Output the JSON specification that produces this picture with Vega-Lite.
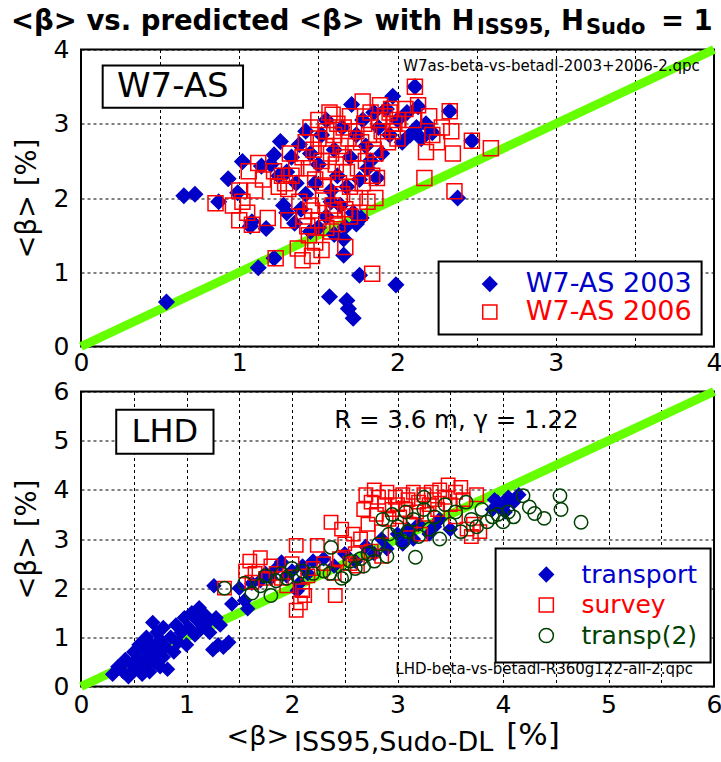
{
  "$schema": "https://vega.github.io/schema/vega-lite/v6.json",
  "background": "white",
  "padding": {"left": 10, "top": 6.5, "right": 0, "bottom": 1},
  "config": {
    "font": "DejaVu Sans",
    "view": {"stroke": "black", "strokeWidth": 2, "fill": "white"},
    "axis": {"grid": true, "gridColor": "black", "gridDash": [3, 3], "gridWidth": 1, "gridOpacity": 1, "ticks": false, "domain": false, "labelFontSize": 25, "labelColor": "black", "labelFont": "DejaVu Sans", "titleFont": "DejaVu Sans", "titleFontWeight": "normal", "titleFontSize": 27.5, "titleColor": "black", "labelOverlap": false, "labelFlush": false},
    "axisY": {"labelPadding": 12, "titlePadding": 11.5},
    "axisX": {"labelPadding": 4},
    "legend": {"orient": "none", "strokeColor": "black", "strokeWidth": 2, "fillColor": "white", "labelFont": "DejaVu Sans", "symbolStrokeWidth": 1.5, "symbolSize": 200, "labelLimit": 400}
  },
  "datasets": {
    "w7": [
      {"s":"W7-AS 2003","x":0.54,"y":0.60},{"s":"W7-AS 2003","x":0.65,"y":2.03},{"s":"W7-AS 2003","x":0.72,"y":2.05},{"s":"W7-AS 2003","x":0.87,"y":1.95},{"s":"W7-AS 2003","x":0.93,"y":2.26},{"s":"W7-AS 2003","x":1.02,"y":2.49},{"s":"W7-AS 2003","x":0.99,"y":2.07},{"s":"W7-AS 2003","x":1.08,"y":1.68},{"s":"W7-AS 2003","x":1.07,"y":1.62},{"s":"W7-AS 2003","x":1.17,"y":1.59},{"s":"W7-AS 2003","x":1.12,"y":1.06},{"s":"W7-AS 2003","x":1.22,"y":1.19},{"s":"W7-AS 2003","x":1.14,"y":2.43},{"s":"W7-AS 2003","x":1.22,"y":2.58},{"s":"W7-AS 2003","x":1.26,"y":2.76},{"s":"W7-AS 2003","x":1.28,"y":1.90},{"s":"W7-AS 2003","x":1.35,"y":1.66},{"s":"W7-AS 2003","x":1.39,"y":1.85},{"s":"W7-AS 2003","x":1.57,"y":0.67},{"s":"W7-AS 2003","x":1.60,"y":1.51},{"s":"W7-AS 2003","x":1.66,"y":1.23},{"s":"W7-AS 2003","x":1.68,"y":0.62},{"s":"W7-AS 2003","x":1.69,"y":0.51},{"s":"W7-AS 2003","x":1.72,"y":0.38},{"s":"W7-AS 2003","x":1.67,"y":1.61},{"s":"W7-AS 2003","x":1.76,"y":0.96},{"s":"W7-AS 2003","x":1.77,"y":1.73},{"s":"W7-AS 2003","x":1.99,"y":0.83},{"s":"W7-AS 2003","x":1.97,"y":3.37},{"s":"W7-AS 2003","x":1.81,"y":2.40},{"s":"W7-AS 2003","x":1.87,"y":2.27},{"s":"W7-AS 2003","x":1.71,"y":3.26},{"s":"W7-AS 2003","x":2.11,"y":3.50},{"s":"W7-AS 2003","x":2.13,"y":3.23},{"s":"W7-AS 2003","x":2.33,"y":3.17},{"s":"W7-AS 2003","x":2.47,"y":2.77},{"s":"W7-AS 2003","x":2.38,"y":2.00},
      {"s":"W7-AS 2003","x":1.30,"y":2.35},{"s":"W7-AS 2003","x":1.33,"y":2.55},{"s":"W7-AS 2003","x":1.38,"y":2.72},{"s":"W7-AS 2003","x":1.42,"y":2.90},{"s":"W7-AS 2003","x":1.45,"y":2.60},{"s":"W7-AS 2003","x":1.48,"y":2.20},{"s":"W7-AS 2003","x":1.50,"y":2.45},{"s":"W7-AS 2003","x":1.52,"y":2.85},{"s":"W7-AS 2003","x":1.55,"y":3.05},{"s":"W7-AS 2003","x":1.58,"y":2.10},{"s":"W7-AS 2003","x":1.60,"y":2.65},{"s":"W7-AS 2003","x":1.62,"y":2.30},{"s":"W7-AS 2003","x":1.64,"y":1.90},{"s":"W7-AS 2003","x":1.65,"y":2.95},{"s":"W7-AS 2003","x":1.68,"y":2.15},{"s":"W7-AS 2003","x":1.70,"y":2.55},{"s":"W7-AS 2003","x":1.72,"y":1.80},{"s":"W7-AS 2003","x":1.74,"y":2.85},{"s":"W7-AS 2003","x":1.76,"y":2.25},{"s":"W7-AS 2003","x":1.78,"y":3.05},{"s":"W7-AS 2003","x":1.80,"y":2.70},{"s":"W7-AS 2003","x":1.83,"y":2.50},{"s":"W7-AS 2003","x":1.85,"y":3.15},{"s":"W7-AS 2003","x":1.88,"y":2.95},{"s":"W7-AS 2003","x":1.90,"y":2.60},{"s":"W7-AS 2003","x":1.93,"y":3.20},{"s":"W7-AS 2003","x":1.95,"y":2.85},{"s":"W7-AS 2003","x":2.00,"y":3.05},{"s":"W7-AS 2003","x":2.03,"y":2.75},{"s":"W7-AS 2003","x":2.06,"y":3.15},{"s":"W7-AS 2003","x":2.08,"y":2.85},{"s":"W7-AS 2003","x":2.12,"y":2.95},{"s":"W7-AS 2003","x":2.15,"y":2.80},{"s":"W7-AS 2003","x":2.18,"y":3.00},{"s":"W7-AS 2003","x":2.22,"y":2.88},{"s":"W7-AS 2003","x":1.55,"y":1.75},{"s":"W7-AS 2003","x":1.50,"y":1.60},{"s":"W7-AS 2003","x":1.45,"y":1.55},{"s":"W7-AS 2003","x":1.58,"y":1.95},{"s":"W7-AS 2003","x":1.42,"y":2.05},{"s":"W7-AS 2003","x":1.36,"y":2.20},{"s":"W7-AS 2003","x":1.25,"y":2.30},{"s":"W7-AS 2003","x":1.20,"y":2.45},{"s":"W7-AS 2003","x":1.30,"y":1.80},{"s":"W7-AS 2003","x":1.66,"y":1.45},{"s":"W7-AS 2003","x":1.74,"y":1.65},
      {"s":"W7-AS 2006","x":0.85,"y":1.93},{"s":"W7-AS 2006","x":0.96,"y":1.90},{"s":"W7-AS 2006","x":1.00,"y":2.10},{"s":"W7-AS 2006","x":1.06,"y":2.36},{"s":"W7-AS 2006","x":1.12,"y":2.47},{"s":"W7-AS 2006","x":1.08,"y":1.64},{"s":"W7-AS 2006","x":1.18,"y":1.73},{"s":"W7-AS 2006","x":1.23,"y":1.19},{"s":"W7-AS 2006","x":1.22,"y":2.36},{"s":"W7-AS 2006","x":1.29,"y":2.20},{"s":"W7-AS 2006","x":1.31,"y":2.12},{"s":"W7-AS 2006","x":1.32,"y":2.60},{"s":"W7-AS 2006","x":1.31,"y":1.70},{"s":"W7-AS 2006","x":1.37,"y":1.32},{"s":"W7-AS 2006","x":1.40,"y":1.16},{"s":"W7-AS 2006","x":1.46,"y":1.22},{"s":"W7-AS 2006","x":1.44,"y":1.50},{"s":"W7-AS 2006","x":1.41,"y":1.75},{"s":"W7-AS 2006","x":1.46,"y":1.83},{"s":"W7-AS 2006","x":1.53,"y":2.17},{"s":"W7-AS 2006","x":1.59,"y":3.12},{"s":"W7-AS 2006","x":1.67,"y":1.34},{"s":"W7-AS 2006","x":1.60,"y":1.83},{"s":"W7-AS 2006","x":1.62,"y":1.78},{"s":"W7-AS 2006","x":1.84,"y":0.98},{"s":"W7-AS 2006","x":1.86,"y":2.00},{"s":"W7-AS 2006","x":1.87,"y":2.27},{"s":"W7-AS 2006","x":1.86,"y":2.60},{"s":"W7-AS 2006","x":1.78,"y":3.30},{"s":"W7-AS 2006","x":1.89,"y":3.25},{"s":"W7-AS 2006","x":1.95,"y":3.15},{"s":"W7-AS 2006","x":2.00,"y":3.05},{"s":"W7-AS 2006","x":2.00,"y":2.80},{"s":"W7-AS 2006","x":1.97,"y":2.90},{"s":"W7-AS 2006","x":2.11,"y":3.50},{"s":"W7-AS 2006","x":2.33,"y":3.17},{"s":"W7-AS 2006","x":2.47,"y":2.77},{"s":"W7-AS 2006","x":2.59,"y":2.67},{"s":"W7-AS 2006","x":2.34,"y":2.90},{"s":"W7-AS 2006","x":2.35,"y":2.60},{"s":"W7-AS 2006","x":2.17,"y":2.27},{"s":"W7-AS 2006","x":2.36,"y":2.09},{"s":"W7-AS 2006","x":2.22,"y":2.85},{"s":"W7-AS 2006","x":2.18,"y":2.62},{"s":"W7-AS 2006","x":2.25,"y":2.75},{"s":"W7-AS 2006","x":2.10,"y":3.05},{"s":"W7-AS 2006","x":2.13,"y":3.25},{"s":"W7-AS 2006","x":2.20,"y":3.10},{"s":"W7-AS 2006","x":2.05,"y":3.20},{"s":"W7-AS 2006","x":2.28,"y":2.95},
      {"s":"W7-AS 2006","x":1.40,"y":2.55},{"s":"W7-AS 2006","x":1.42,"y":2.75},{"s":"W7-AS 2006","x":1.44,"y":2.40},{"s":"W7-AS 2006","x":1.45,"y":2.95},{"s":"W7-AS 2006","x":1.47,"y":2.65},{"s":"W7-AS 2006","x":1.48,"y":2.25},{"s":"W7-AS 2006","x":1.50,"y":2.80},{"s":"W7-AS 2006","x":1.50,"y":3.05},{"s":"W7-AS 2006","x":1.52,"y":2.50},{"s":"W7-AS 2006","x":1.53,"y":2.00},{"s":"W7-AS 2006","x":1.55,"y":2.70},{"s":"W7-AS 2006","x":1.55,"y":2.90},{"s":"W7-AS 2006","x":1.56,"y":2.35},{"s":"W7-AS 2006","x":1.57,"y":3.15},{"s":"W7-AS 2006","x":1.58,"y":2.60},{"s":"W7-AS 2006","x":1.59,"y":1.90},{"s":"W7-AS 2006","x":1.60,"y":2.85},{"s":"W7-AS 2006","x":1.61,"y":2.45},{"s":"W7-AS 2006","x":1.62,"y":3.00},{"s":"W7-AS 2006","x":1.63,"y":2.20},{"s":"W7-AS 2006","x":1.64,"y":2.70},{"s":"W7-AS 2006","x":1.65,"y":2.05},{"s":"W7-AS 2006","x":1.66,"y":2.55},{"s":"W7-AS 2006","x":1.66,"y":2.95},{"s":"W7-AS 2006","x":1.67,"y":1.85},{"s":"W7-AS 2006","x":1.68,"y":2.35},{"s":"W7-AS 2006","x":1.69,"y":2.80},{"s":"W7-AS 2006","x":1.70,"y":3.10},{"s":"W7-AS 2006","x":1.70,"y":2.15},{"s":"W7-AS 2006","x":1.72,"y":2.60},{"s":"W7-AS 2006","x":1.73,"y":2.00},{"s":"W7-AS 2006","x":1.74,"y":2.90},{"s":"W7-AS 2006","x":1.75,"y":2.40},{"s":"W7-AS 2006","x":1.76,"y":1.80},{"s":"W7-AS 2006","x":1.77,"y":2.75},{"s":"W7-AS 2006","x":1.78,"y":2.20},{"s":"W7-AS 2006","x":1.79,"y":3.00},{"s":"W7-AS 2006","x":1.80,"y":2.50},{"s":"W7-AS 2006","x":1.81,"y":1.95},{"s":"W7-AS 2006","x":1.82,"y":2.85},{"s":"W7-AS 2006","x":1.83,"y":3.15},{"s":"W7-AS 2006","x":1.84,"y":2.30},{"s":"W7-AS 2006","x":1.85,"y":2.65},{"s":"W7-AS 2006","x":1.88,"y":3.05},{"s":"W7-AS 2006","x":1.90,"y":2.90},{"s":"W7-AS 2006","x":1.92,"y":3.10},{"s":"W7-AS 2006","x":1.94,"y":2.75},{"s":"W7-AS 2006","x":1.96,"y":3.20},{"s":"W7-AS 2006","x":1.98,"y":3.00},{"s":"W7-AS 2006","x":1.36,"y":2.40},{"s":"W7-AS 2006","x":1.33,"y":2.30},{"s":"W7-AS 2006","x":1.27,"y":2.30},{"s":"W7-AS 2006","x":1.25,"y":2.15},{"s":"W7-AS 2006","x":1.15,"y":2.25},{"s":"W7-AS 2006","x":1.10,"y":2.10},{"s":"W7-AS 2006","x":1.02,"y":1.95},{"s":"W7-AS 2006","x":1.05,"y":1.80},{"s":"W7-AS 2006","x":1.00,"y":1.70},{"s":"W7-AS 2006","x":1.38,"y":1.95},{"s":"W7-AS 2006","x":1.45,"y":1.90},{"s":"W7-AS 2006","x":1.50,"y":1.70},{"s":"W7-AS 2006","x":1.55,"y":1.60},{"s":"W7-AS 2006","x":1.58,"y":1.55},{"s":"W7-AS 2006","x":1.48,"y":1.40},{"s":"W7-AS 2006","x":1.52,"y":1.30},{"s":"W7-AS 2006","x":1.43,"y":1.62},{"s":"W7-AS 2006","x":1.62,"y":1.65},{"s":"W7-AS 2006","x":1.70,"y":1.75}
    ],
    "lhd": [
      {"s":"transport","x":0.30,"y":0.25},{"s":"transport","x":0.35,"y":0.40},{"s":"transport","x":0.40,"y":0.30},{"s":"transport","x":0.42,"y":0.55},{"s":"transport","x":0.45,"y":0.20},{"s":"transport","x":0.48,"y":0.45},{"s":"transport","x":0.50,"y":0.70},{"s":"transport","x":0.52,"y":0.35},{"s":"transport","x":0.55,"y":0.55},{"s":"transport","x":0.55,"y":0.85},{"s":"transport","x":0.58,"y":0.25},{"s":"transport","x":0.60,"y":0.45},{"s":"transport","x":0.60,"y":0.75},{"s":"transport","x":0.62,"y":1.00},{"s":"transport","x":0.65,"y":0.60},{"s":"transport","x":0.65,"y":0.30},{"s":"transport","x":0.67,"y":0.85},{"s":"transport","x":0.68,"y":1.30},{"s":"transport","x":0.70,"y":0.50},{"s":"transport","x":0.72,"y":0.70},{"s":"transport","x":0.72,"y":1.10},{"s":"transport","x":0.75,"y":0.40},{"s":"transport","x":0.75,"y":0.95},{"s":"transport","x":0.78,"y":0.60},{"s":"transport","x":0.78,"y":1.20},{"s":"transport","x":0.80,"y":0.80},{"s":"transport","x":0.82,"y":0.35},{"s":"transport","x":0.85,"y":1.00},{"s":"transport","x":0.88,"y":0.70},{"s":"transport","x":0.90,"y":1.25},{"s":"transport","x":0.92,"y":0.90},{"s":"transport","x":0.95,"y":1.10},{"s":"transport","x":0.98,"y":1.40},{"s":"transport","x":1.00,"y":0.85},{"s":"transport","x":1.02,"y":1.20},{"s":"transport","x":1.05,"y":1.50},{"s":"transport","x":1.08,"y":1.05},{"s":"transport","x":1.10,"y":1.35},{"s":"transport","x":1.12,"y":1.60},{"s":"transport","x":1.15,"y":1.20},{"s":"transport","x":1.18,"y":1.45},{"s":"transport","x":1.20,"y":1.30},{"s":"transport","x":1.22,"y":1.10},{"s":"transport","x":1.25,"y":0.75},{"s":"transport","x":1.30,"y":0.85},{"s":"transport","x":1.35,"y":0.80},{"s":"transport","x":1.40,"y":0.90},{"s":"transport","x":1.28,"y":1.40},{"s":"transport","x":1.32,"y":1.25},{"s":"transport","x":1.26,"y":2.05},{"s":"transport","x":1.43,"y":1.68},{"s":"transport","x":1.58,"y":1.58},{"s":"transport","x":1.55,"y":1.75},{"s":"transport","x":1.50,"y":2.00},{"s":"transport","x":1.62,"y":2.10},{"s":"transport","x":1.70,"y":2.15},{"s":"transport","x":1.75,"y":2.30},{"s":"transport","x":1.80,"y":2.20},{"s":"transport","x":1.85,"y":2.40},{"s":"transport","x":1.90,"y":2.53},{"s":"transport","x":1.95,"y":2.25},{"s":"transport","x":2.00,"y":2.35},{"s":"transport","x":2.05,"y":1.95},{"s":"transport","x":2.07,"y":2.10},{"s":"transport","x":2.10,"y":2.45},{"s":"transport","x":2.15,"y":2.30},{"s":"transport","x":2.20,"y":2.55},{"s":"transport","x":2.30,"y":2.60},{"s":"transport","x":2.40,"y":2.45},{"s":"transport","x":2.50,"y":2.70},{"s":"transport","x":2.60,"y":2.55},{"s":"transport","x":2.70,"y":2.85},{"s":"transport","x":2.78,"y":2.70},{"s":"transport","x":2.85,"y":3.00},{"s":"transport","x":2.90,"y":2.80},{"s":"transport","x":3.00,"y":3.10},{"s":"transport","x":3.05,"y":2.90},{"s":"transport","x":3.10,"y":3.20},{"s":"transport","x":3.15,"y":3.00},{"s":"transport","x":3.20,"y":3.30},{"s":"transport","x":3.30,"y":3.10},{"s":"transport","x":3.35,"y":3.25},{"s":"transport","x":3.40,"y":3.40},{"s":"transport","x":3.50,"y":3.20},{"s":"transport","x":3.90,"y":3.60},{"s":"transport","x":3.95,"y":3.75},{"s":"transport","x":4.00,"y":3.65},{"s":"transport","x":4.05,"y":3.85},{"s":"transport","x":4.10,"y":3.75},{"s":"transport","x":4.15,"y":3.90},{"s":"transport","x":3.92,"y":3.80},{"s":"transport","x":4.02,"y":3.55},
      {"s":"survey","x":1.36,"y":2.00},{"s":"survey","x":1.56,"y":2.35},{"s":"survey","x":1.60,"y":2.55},{"s":"survey","x":1.65,"y":2.30},{"s":"survey","x":1.70,"y":2.62},{"s":"survey","x":1.62,"y":2.12},{"s":"survey","x":1.75,"y":2.20},{"s":"survey","x":1.80,"y":2.45},{"s":"survey","x":1.85,"y":2.30},{"s":"survey","x":2.04,"y":1.55},{"s":"survey","x":2.08,"y":1.70},{"s":"survey","x":2.12,"y":1.85},{"s":"survey","x":2.10,"y":1.95},{"s":"survey","x":2.04,"y":2.87},{"s":"survey","x":2.24,"y":2.87},{"s":"survey","x":2.41,"y":1.85},{"s":"survey","x":2.37,"y":3.34},{"s":"survey","x":2.47,"y":3.20},{"s":"survey","x":2.20,"y":2.40},{"s":"survey","x":2.30,"y":2.50},{"s":"survey","x":2.40,"y":2.30},{"s":"survey","x":2.45,"y":2.60},{"s":"survey","x":2.55,"y":2.50},{"s":"survey","x":2.60,"y":2.70},{"s":"survey","x":2.65,"y":3.00},{"s":"survey","x":2.68,"y":3.60},{"s":"survey","x":2.70,"y":3.90},{"s":"survey","x":2.72,"y":3.30},{"s":"survey","x":2.75,"y":3.75},{"s":"survey","x":2.78,"y":4.00},{"s":"survey","x":2.80,"y":3.50},{"s":"survey","x":2.82,"y":3.85},{"s":"survey","x":2.85,"y":3.15},{"s":"survey","x":2.88,"y":3.70},{"s":"survey","x":2.90,"y":3.95},{"s":"survey","x":2.92,"y":3.40},{"s":"survey","x":2.95,"y":3.60},{"s":"survey","x":2.98,"y":3.85},{"s":"survey","x":3.00,"y":3.70},{"s":"survey","x":3.02,"y":3.45},{"s":"survey","x":3.05,"y":3.90},{"s":"survey","x":3.08,"y":3.60},{"s":"survey","x":3.10,"y":3.80},{"s":"survey","x":3.12,"y":3.30},{"s":"survey","x":3.15,"y":3.95},{"s":"survey","x":3.18,"y":3.55},{"s":"survey","x":3.20,"y":3.75},{"s":"survey","x":3.22,"y":3.10},{"s":"survey","x":3.25,"y":3.90},{"s":"survey","x":3.28,"y":3.50},{"s":"survey","x":3.30,"y":3.70},{"s":"survey","x":3.32,"y":3.95},{"s":"survey","x":3.35,"y":3.80},{"s":"survey","x":3.38,"y":3.60},{"s":"survey","x":3.40,"y":4.00},{"s":"survey","x":3.45,"y":3.85},{"s":"survey","x":3.48,"y":4.10},{"s":"survey","x":3.50,"y":3.70},{"s":"survey","x":3.55,"y":3.95},{"s":"survey","x":3.60,"y":4.05},{"s":"survey","x":3.62,"y":3.80},{"s":"survey","x":3.66,"y":3.20},{"s":"survey","x":3.70,"y":3.05},{"s":"survey","x":3.72,"y":3.30},{"s":"survey","x":3.75,"y":3.90},{"s":"survey","x":3.78,"y":3.15},{"s":"survey","x":3.55,"y":3.45},{"s":"survey","x":2.50,"y":2.90},{"s":"survey","x":2.58,"y":3.10},{"s":"survey","x":2.62,"y":2.45},{"s":"survey","x":2.75,"y":2.75},{"s":"survey","x":2.85,"y":2.65},{"s":"survey","x":1.90,"y":2.20},{"s":"survey","x":1.95,"y":2.05},{"s":"survey","x":2.00,"y":2.50},{"s":"survey","x":2.15,"y":2.25},
      {"s":"transp(2)","x":1.36,"y":2.00},{"s":"transp(2)","x":1.55,"y":2.10},{"s":"transp(2)","x":1.62,"y":1.90},{"s":"transp(2)","x":1.70,"y":2.05},{"s":"transp(2)","x":1.80,"y":1.85},{"s":"transp(2)","x":1.75,"y":2.25},{"s":"transp(2)","x":1.85,"y":2.15},{"s":"transp(2)","x":1.90,"y":2.30},{"s":"transp(2)","x":1.95,"y":2.20},{"s":"transp(2)","x":2.00,"y":2.40},{"s":"transp(2)","x":2.05,"y":2.25},{"s":"transp(2)","x":2.10,"y":2.35},{"s":"transp(2)","x":2.20,"y":2.30},{"s":"transp(2)","x":2.30,"y":2.35},{"s":"transp(2)","x":2.36,"y":2.30},{"s":"transp(2)","x":2.37,"y":2.83},{"s":"transp(2)","x":2.47,"y":2.20},{"s":"transp(2)","x":2.55,"y":2.55},{"s":"transp(2)","x":2.60,"y":2.40},{"s":"transp(2)","x":2.68,"y":2.45},{"s":"transp(2)","x":2.72,"y":2.70},{"s":"transp(2)","x":2.78,"y":2.55},{"s":"transp(2)","x":2.82,"y":2.90},{"s":"transp(2)","x":2.86,"y":3.40},{"s":"transp(2)","x":2.90,"y":2.65},{"s":"transp(2)","x":2.92,"y":3.10},{"s":"transp(2)","x":2.95,"y":3.50},{"s":"transp(2)","x":3.00,"y":3.25},{"s":"transp(2)","x":3.05,"y":2.95},{"s":"transp(2)","x":3.08,"y":3.55},{"s":"transp(2)","x":3.10,"y":3.15},{"s":"transp(2)","x":3.15,"y":3.40},{"s":"transp(2)","x":3.17,"y":2.63},{"s":"transp(2)","x":3.20,"y":3.05},{"s":"transp(2)","x":3.25,"y":3.60},{"s":"transp(2)","x":3.30,"y":3.20},{"s":"transp(2)","x":3.35,"y":3.45},{"s":"transp(2)","x":3.40,"y":3.00},{"s":"transp(2)","x":3.45,"y":3.70},{"s":"transp(2)","x":3.50,"y":3.30},{"s":"transp(2)","x":3.55,"y":3.55},{"s":"transp(2)","x":3.60,"y":3.15},{"s":"transp(2)","x":3.65,"y":3.75},{"s":"transp(2)","x":3.70,"y":3.40},{"s":"transp(2)","x":3.75,"y":3.25},{"s":"transp(2)","x":3.80,"y":3.60},{"s":"transp(2)","x":3.85,"y":3.35},{"s":"transp(2)","x":3.90,"y":3.45},{"s":"transp(2)","x":3.95,"y":3.50},{"s":"transp(2)","x":4.00,"y":3.35},{"s":"transp(2)","x":4.05,"y":3.55},{"s":"transp(2)","x":4.10,"y":3.45},{"s":"transp(2)","x":4.19,"y":3.88},{"s":"transp(2)","x":4.30,"y":3.52},{"s":"transp(2)","x":4.39,"y":3.42},{"s":"transp(2)","x":4.54,"y":3.88},{"s":"transp(2)","x":4.55,"y":3.60},{"s":"transp(2)","x":4.74,"y":3.34},{"s":"transp(2)","x":4.25,"y":3.65},{"s":"transp(2)","x":3.25,"y":3.85},{"s":"transp(2)","x":2.50,"y":2.25},{"s":"transp(2)","x":2.65,"y":2.60}
    ]
  },
  "spacing": 45,
  "bounds": "flush",
  "resolve": {
    "scale": {"x": "independent", "y": "independent", "fill": "independent", "stroke": "independent", "shape": "independent"},
    "legend": {"fill": "independent", "stroke": "independent", "shape": "independent"}
  },
  "vconcat": [
    {
      "width": 633,
      "height": 297,
      "layer": [
        {
          "data": {"values": [{"x": 0, "y": 0}, {"x": 4, "y": 4}]},
          "mark": {"type": "line", "color": "#66ff00", "strokeWidth": 9, "strokeCap": "butt"},
          "encoding": {
            "x": {"field": "x", "type": "quantitative", "scale": {"domain": [0, 4], "nice": false, "zero": false}, "axis": {"values": [0, 0.5, 1, 1.5, 2, 2.5, 3, 3.5, 4], "labelExpr": "datum.value % 1 === 0 ? format(datum.value, 'd') : ''", "title": null}},
            "y": {"field": "y", "type": "quantitative", "scale": {"domain": [0, 4], "nice": false, "zero": false}, "axis": {"values": [0, 0.5, 1, 1.5, 2, 2.5, 3, 3.5, 4], "labelExpr": "datum.value % 1 === 0 ? format(datum.value, 'd') : ''", "title": "<β> [%]"}}
          }
        },
        {
          "data": {"name": "w7"},
          "mark": {"type": "point", "filled": true, "size": 225, "strokeWidth": 1.5, "opacity": 1},
          "encoding": {
            "x": {"field": "x", "type": "quantitative"},
            "y": {"field": "y", "type": "quantitative"},
            "shape": {"field": "s", "type": "nominal", "scale": {"domain": ["W7-AS 2003", "W7-AS 2006"], "range": ["diamond", "square"]}, "legend": {"title": null, "legendX": 357.6, "legendY": 212, "padding": 9, "symbolOffset": 28.7, "labelOffset": 22.5, "rowPadding": 0, "labelFontSize": 27, "labelColor": {"expr": "datum.value === 'W7-AS 2003' ? '#0000c8' : '#ff0000'"}}},
            "fill": {"field": "s", "type": "nominal", "scale": {"domain": ["W7-AS 2003", "W7-AS 2006"], "range": ["#0000c8", "transparent"]}, "legend": {"title": null, "legendX": 357.6, "legendY": 212, "padding": 9, "symbolOffset": 28.7, "labelOffset": 22.5, "rowPadding": 0, "labelFontSize": 27, "labelColor": {"expr": "datum.value === 'W7-AS 2003' ? '#0000c8' : '#ff0000'"}}},
            "stroke": {"field": "s", "type": "nominal", "scale": {"domain": ["W7-AS 2003", "W7-AS 2006"], "range": ["#0000c8", "#ff0000"]}, "legend": {"title": null, "legendX": 357.6, "legendY": 212, "padding": 9, "symbolOffset": 28.7, "labelOffset": 22.5, "rowPadding": 0, "labelFontSize": 27, "labelColor": {"expr": "datum.value === 'W7-AS 2003' ? '#0000c8' : '#ff0000'"}}}
          }
        },
        {
          "data": {"values": [{"label": "W7-AS"}]},
          "mark": {"type": "rect", "fill": "white", "stroke": "black", "strokeWidth": 2},
          "encoding": {"x": {"datum": 0.137}, "x2": {"datum": 1.024}, "y": {"datum": 3.784}, "y2": {"datum": 3.216}}
        },
        {
          "data": {"values": [{"label": "W7-AS"}]},
          "mark": {"type": "text", "fontSize": 34, "align": "center", "baseline": "middle", "color": "black"},
          "encoding": {"x": {"datum": 0.58}, "y": {"datum": 3.49}, "text": {"field": "label"}}
        },
        {
          "data": {"values": [{"label": "W7as-beta-vs-betadl-2003+2006-2.qpc"}]},
          "mark": {"type": "text", "fontSize": 15, "align": "right", "baseline": "alphabetic", "color": "black"},
          "encoding": {"x": {"datum": 3.91}, "y": {"datum": 3.716}, "text": {"field": "label"}}
        },
        {
          "data": {"values": [{"label": "<β> vs. predicted <β> with H"}]},
          "mark": {"type": "text", "fontSize": 27.5, "fontWeight": "bold", "align": "left", "baseline": "alphabetic", "color": "black"},
          "encoding": {"x": {"datum": -0.442}, "y": {"datum": 4.269}, "text": {"field": "label"}}
        },
        {
          "data": {"values": [{"label": "ISS95,"}]},
          "mark": {"type": "text", "fontSize": 21, "fontWeight": "bold", "align": "left", "baseline": "alphabetic", "color": "black"},
          "encoding": {"x": {"datum": 2.502}, "y": {"datum": 4.215}, "text": {"field": "label"}}
        },
        {
          "data": {"values": [{"label": "H"}]},
          "mark": {"type": "text", "fontSize": 27.5, "fontWeight": "bold", "align": "left", "baseline": "alphabetic", "color": "black"},
          "encoding": {"x": {"datum": 3.033}, "y": {"datum": 4.269}, "text": {"field": "label"}}
        },
        {
          "data": {"values": [{"label": "Sudo"}]},
          "mark": {"type": "text", "fontSize": 21, "fontWeight": "bold", "align": "left", "baseline": "alphabetic", "color": "black"},
          "encoding": {"x": {"datum": 3.191}, "y": {"datum": 4.215}, "text": {"field": "label"}}
        },
        {
          "data": {"values": [{"label": "= 1"}]},
          "mark": {"type": "text", "fontSize": 27.5, "fontWeight": "bold", "align": "left", "baseline": "alphabetic", "color": "black"},
          "encoding": {"x": {"datum": 3.665}, "y": {"datum": 4.269}, "text": {"field": "label"}}
        }
      ]
    },
    {
      "width": 633,
      "height": 295,
      "layer": [
        {
          "data": {"values": [{"x": 0, "y": 0}, {"x": 6, "y": 6}]},
          "mark": {"type": "line", "color": "#66ff00", "strokeWidth": 9, "strokeCap": "butt"},
          "encoding": {
            "x": {"field": "x", "type": "quantitative", "scale": {"domain": [0, 6], "nice": false, "zero": false}, "axis": {"values": [0, 0.5, 1, 1.5, 2, 2.5, 3, 3.5, 4, 4.5, 5, 5.5, 6], "labelExpr": "datum.value % 1 === 0 ? format(datum.value, 'd') : ''", "title": null, "labelPadding": 6}},
            "y": {"field": "y", "type": "quantitative", "scale": {"domain": [0, 6], "nice": false, "zero": false}, "axis": {"values": [0, 0.5, 1, 1.5, 2, 2.5, 3, 3.5, 4, 4.5, 5, 5.5, 6], "labelExpr": "datum.value % 1 === 0 ? format(datum.value, 'd') : ''", "title": "<β> [%]"}}
          }
        },
        {
          "data": {"name": "lhd"},
          "mark": {"type": "point", "filled": true, "size": 180, "strokeWidth": 1.5, "opacity": 1},
          "encoding": {
            "x": {"field": "x", "type": "quantitative"},
            "y": {"field": "y", "type": "quantitative"},
            "shape": {"field": "s", "type": "nominal", "scale": {"domain": ["transport", "survey", "transp(2)"], "range": ["diamond", "square", "circle"]}, "legend": {"title": null, "legendX": 414.6, "legendY": 157, "padding": 13.5, "symbolOffset": 24.7, "labelOffset": 22.7, "rowPadding": 4.5, "labelFontSize": 25, "labelColor": {"expr": "datum.value === 'transport' ? '#0000c8' : datum.value === 'survey' ? '#ff0000' : '#004000'"}}},
            "fill": {"field": "s", "type": "nominal", "scale": {"domain": ["transport", "survey", "transp(2)"], "range": ["#0000c8", "transparent", "transparent"]}, "legend": {"title": null, "legendX": 414.6, "legendY": 157, "padding": 13.5, "symbolOffset": 24.7, "labelOffset": 22.7, "rowPadding": 4.5, "labelFontSize": 25, "labelColor": {"expr": "datum.value === 'transport' ? '#0000c8' : datum.value === 'survey' ? '#ff0000' : '#004000'"}}},
            "stroke": {"field": "s", "type": "nominal", "scale": {"domain": ["transport", "survey", "transp(2)"], "range": ["#0000c8", "#ff0000", "#004000"]}, "legend": {"title": null, "legendX": 414.6, "legendY": 157, "padding": 13.5, "symbolOffset": 24.7, "labelOffset": 22.7, "rowPadding": 4.5, "labelFontSize": 25, "labelColor": {"expr": "datum.value === 'transport' ? '#0000c8' : datum.value === 'survey' ? '#ff0000' : '#004000'"}}}
          }
        },
        {
          "data": {"values": [{"label": "LHD"}]},
          "mark": {"type": "rect", "fill": "white", "stroke": "black", "strokeWidth": 2},
          "encoding": {"x": {"datum": 0.334}, "x2": {"datum": 1.256}, "y": {"datum": 5.63}, "y2": {"datum": 4.736}}
        },
        {
          "data": {"values": [{"label": "LHD"}]},
          "mark": {"type": "text", "fontSize": 32, "align": "center", "baseline": "middle", "color": "black"},
          "encoding": {"x": {"datum": 0.795}, "y": {"datum": 5.17}, "text": {"field": "label"}}
        },
        {
          "data": {"values": [{"label": "R = 3.6 m, γ = 1.22"}]},
          "mark": {"type": "text", "fontSize": 24.5, "align": "left", "baseline": "alphabetic", "color": "black"},
          "encoding": {"x": {"datum": 2.40}, "y": {"datum": 5.26}, "text": {"field": "label"}}
        },
        {
          "data": {"values": [{"label": "LHD-beta-vs-betadl-R360g122-all-2.qpc"}]},
          "mark": {"type": "text", "fontSize": 15, "align": "right", "baseline": "alphabetic", "color": "black"},
          "encoding": {"x": {"datum": 5.8}, "y": {"datum": 0.264}, "text": {"field": "label"}}
        },
        {
          "data": {"values": [{"label": "<β>"}]},
          "mark": {"type": "text", "fontSize": 27, "align": "left", "baseline": "alphabetic", "color": "black"},
          "encoding": {"x": {"datum": 1.38}, "y": {"datum": -1.18}, "text": {"field": "label"}}
        },
        {
          "data": {"values": [{"label": "ISS95,Sudo-DL"}]},
          "mark": {"type": "text", "fontSize": 27, "align": "left", "baseline": "alphabetic", "color": "black"},
          "encoding": {"x": {"datum": 2.02}, "y": {"datum": -1.31}, "text": {"field": "label"}}
        },
        {
          "data": {"values": [{"label": "[%]"}]},
          "mark": {"type": "text", "fontSize": 31, "align": "left", "baseline": "alphabetic", "color": "black"},
          "encoding": {"x": {"datum": 4.03}, "y": {"datum": -1.18}, "text": {"field": "label"}}
        }
      ]
    }
  ]
}
